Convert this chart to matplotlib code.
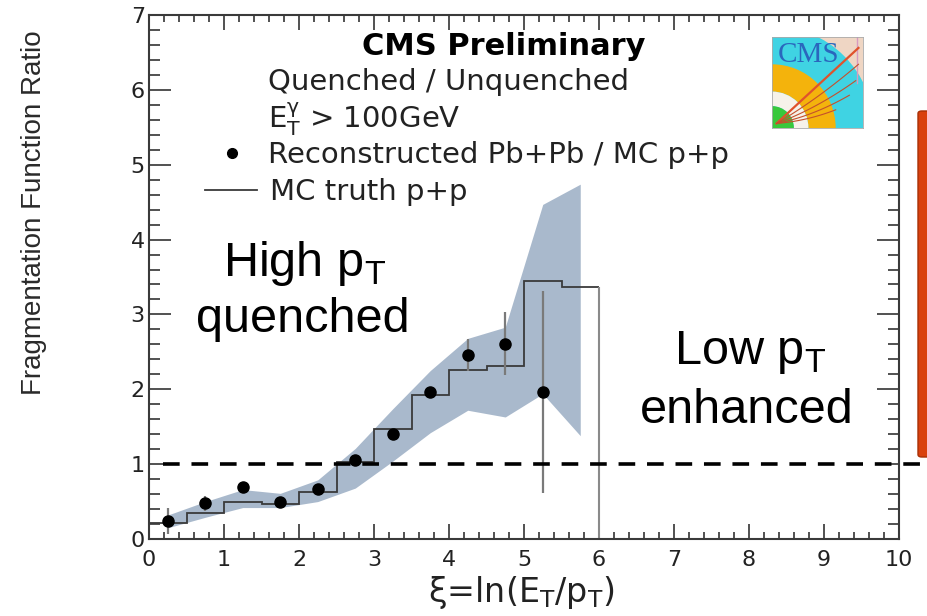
import numpy as np
import matplotlib
matplotlib.use('Agg')
import matplotlib.pyplot as plt
from matplotlib import font_manager
from matplotlib.lines import Line2D
from matplotlib.patches import FancyBboxPatch, Circle, Wedge
from matplotlib.ticker import MultipleLocator

# data
xi_centers = [0.25, 0.75, 1.25, 1.75, 2.25, 2.75, 3.25, 3.75, 4.25, 4.75, 5.25]
ratio_pbpb = [0.24, 0.48, 0.70, 0.50, 0.67, 1.05, 1.40, 1.96, 2.46, 2.61, 1.96]
ratio_err = [0.17, 0.10, 0.05, 0.03, 0.04, 0.04, 0.07, 0.06, 0.21, 0.42, 1.35]

mc_edges = [0.0, 0.5, 1.0, 1.5, 2.0, 2.5, 3.0, 3.5, 4.0, 4.5, 5.0, 5.5, 6.0]
mc_truth = [0.22, 0.35, 0.50, 0.47, 0.63, 1.03, 1.47, 1.92, 2.26, 2.31, 3.45, 3.36]

band_x = [0.25, 0.75, 1.25, 1.75, 2.25, 2.75, 3.25, 3.75, 4.25, 4.75, 5.25, 5.75]
band_lo = [0.15, 0.29, 0.42, 0.42, 0.50, 0.68, 1.04, 1.42, 1.72, 1.63, 1.94, 1.38]
band_hi = [0.32, 0.50, 0.66, 0.61, 0.79, 1.21, 1.74, 2.25, 2.68, 2.83, 4.47, 4.74]

ref_ratio = 1.0

W, H = 927, 616


def fx(px):
    return px / W


def fy(py):
    return 1 - py / H


plt.rcParams['lines.scale_dashes'] = False
names = {f.name for f in font_manager.fontManager.ttflist}
ylab_font = 'Liberation Sans Narrow' if 'Liberation Sans Narrow' in names else 'Liberation Sans'
ylab_size = 22.5 if ylab_font == 'Liberation Sans Narrow' else 20

fig = plt.figure(figsize=(W / 100, H / 100), dpi=100)
ax = fig.add_axes([fx(149), fy(539), 750 / W, 524 / H])

ax.fill_between(band_x, band_lo, band_hi, color='#a9b9cc', lw=0, zorder=1)
ax.stairs(mc_truth, mc_edges, baseline=None, color='#3a3a3a', lw=1.3, zorder=2)
ax.vlines(mc_edges[-1], 0, mc_truth[-1], color='#8a8a8a', lw=1.5, zorder=2)
ax.errorbar(xi_centers, ratio_pbpb, yerr=ratio_err, fmt='o', color='k', ms=8,
            ecolor='#7a7a7a', elinewidth=1.6, capsize=0, zorder=4)
ax.plot([0.19, 10.4], [ref_ratio, ref_ratio], color='k', lw=2.6,
        ls=(0, (12, 8.5)), clip_on=False, zorder=6)

ax.set_xlim(0, 10)
ax.set_ylim(0, 7)
ax.xaxis.set_major_locator(MultipleLocator(1))
ax.xaxis.set_minor_locator(MultipleLocator(0.2))
ax.yaxis.set_major_locator(MultipleLocator(1))
ax.yaxis.set_minor_locator(MultipleLocator(0.2))
ax.tick_params(which='both', direction='in', top=True, right=True,
               width=1.2, color='#333333', labelcolor='#222222')
ax.tick_params(axis='x', which='major', length=11, labelsize=16, pad=8)
ax.tick_params(axis='x', which='minor', length=5)
ax.tick_params(axis='y', which='major', length=16, labelsize=16, pad=3)
ax.tick_params(axis='y', which='minor', length=8)
for s in ax.spines.values():
    s.set_linewidth(1.5)
    s.set_color('#3a3a3a')

# ROOT legend block
fig.text(fx(504), fy(55), 'CMS Preliminary', weight='bold', size=22,
         ha='center', va='baseline')
fig.text(fx(268), fy(90), 'Quenched / Unquenched', size=21, va='baseline', color='#222222')
fig.text(fx(268), fy(128), r'$\mathregular{E_T^{\gamma}}$ > 100GeV', size=21,
         va='baseline', color='#222222')
fig.text(fx(268), fy(163), 'Reconstructed Pb+Pb / MC p+p', size=21, va='baseline',
         color='#222222')
fig.text(fx(270), fy(200), 'MC truth p+p', size=21, va='baseline', color='#222222')
fig.add_artist(Line2D([fx(232)], [fy(153)], marker='o', ms=7, color='k',
                      transform=fig.transFigure))
fig.add_artist(Line2D([fx(205), fx(257)], [fy(190), fy(190)], color='#3a3a3a',
                      lw=1.3, transform=fig.transFigure))

# axis titles
fig.text(fx(34), fy(213), 'Fragmentation Function Ratio', family=ylab_font,
         size=ylab_size, rotation=90, ha='center', va='center', color='#2a2a2a')
fig.text(fx(521), fy(601.7), r'ξ=ln($\mathregular{E_T/p_T}$)', size=24,
         ha='center', va='baseline', color='#222222')

# slide annotations
ann = dict(family='Liberation Sans', size=35, ha='center', va='baseline')
ax.text(2.07, 3.52, r'High p$_\mathregular{T}$', **ann)
ax.text(2.05, 2.76, 'quenched', **ann)
ax.text(8.01, 2.34, r'Low p$_\mathregular{T}$', **ann)
ax.text(7.97, 1.556, 'enhanced', **ann)

# orange box edge at right of slide
fig.add_artist(FancyBboxPatch((fx(918), fy(457)), 0.05, (457 - 111) / H,
                              boxstyle='round,pad=0,rounding_size=0.004',
                              transform=fig.transFigure, fc='#d9410e',
                              ec='#a83006', lw=1))

# CMS logo
lax = fig.add_axes([fx(772), fy(128), 91 / W, 91 / H])
lax.set_xlim(0, 1)
lax.set_ylim(0, 1)
lax.set_xticks([])
lax.set_yticks([])
for s in lax.spines.values():
    s.set_color('#aaaaaa')
    s.set_linewidth(0.6)
lax.set_facecolor('#efd6c4')
lax.add_patch(Circle((0, 0), 1.12, fc='#3fd3e3', ec='none'))
lax.add_patch(Wedge((0, 0), 0.7, 0, 90, width=0.3, fc='#f4b30c', ec='none'))
lax.add_patch(Wedge((0, 0), 0.4, 0, 90, width=0.16, fc='#f6f2ea', ec='none'))
lax.add_patch(Wedge((0, 0), 0.24, 0, 90, fc='#38c83c', ec='none'))
lax.plot([0.93, 0.93], [0.5, 1.0], color='#d79ac0', lw=1)
t = np.linspace(0, 1, 30)
lax.plot(0.05 + 0.9 * t, 0.05 + 0.83 * t, color='#e0522c', lw=1.6)
for xe, ye, bend in [(0.95, 0.70, 0.12), (0.92, 0.52, 0.15), (0.85, 0.36, 0.15), (0.7, 0.2, 0.1)]:
    lax.plot(0.05 + (xe - 0.05) * t, 0.05 + (ye - 0.05) * t - bend * t * (1 - t),
             color='#c4502c', lw=0.8)
lax.text(0.06, 0.8, 'CMS', family='Liberation Serif', size=21, color='#2a66bd',
         va='center')

fig.savefig('out.png', dpi=100)
